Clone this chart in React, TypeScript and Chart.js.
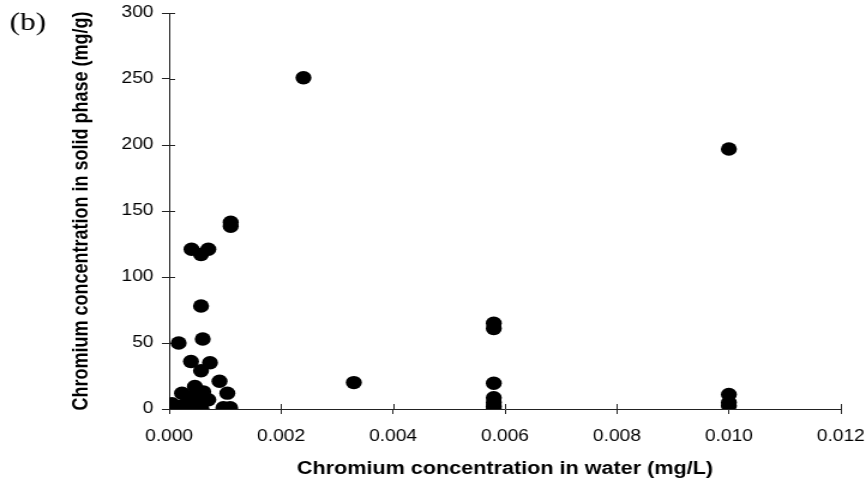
import { useEffect, useRef } from "react";
import { Chart, registerables } from "chart.js";

Chart.register(...registerables);

// Chromium in water (mg/L) and in the solid phase (mg/g), one entry per sample
const waterCr = [
  0.0024, 0.01, 0.0011, 0.0011, 0.0004, 0.0007, 0.00057, 0.00057, 0.00017, 0.0006,
  0.00039, 0.00073, 0.00057, 0.0009, 0.00104, 0.00046, 0.00023, 0.00061, 0.0007, 0.00005,
  0.00032, 0.0004, 0.00055, 0.00017, 0.00003, 0.00058, 0.00097, 0.00109, 0.00043, 0.0006,
  0.0033, 0.0058, 0.0058, 0.0058, 0.0058, 0.0058, 0.0058, 0.0058, 0.01, 0.01, 0.01,
];
const solidCr = [
  251, 197, 141.5, 138.5, 121, 121, 117, 78, 50, 53,
  36, 35, 29, 21, 12, 17, 12, 13, 7, 4,
  5, 3, 2, 2, 2, 0, 1, 1, 10, 8,
  20, 65, 61, 19.5, 8.5, 5, 2, 0, 11, 5, 2.5,
];

const xTickValues = [0, 0.002, 0.004, 0.006, 0.008, 0.01, 0.012];
const yTickValues = [0, 50, 100, 150, 200, 250, 300];

const panelLabel = "(b)";
const xTitle = "Chromium concentration in water (mg/L)";
const yTitle = "Chromium concentration in solid phase (mg/g)";

// the figure is laid out on a narrower canvas and widened by CSS
const PAGE_W = 866;
const PAGE_H = 486;
const WIDEN = 1.2;
const CANVAS_W = Math.round(PAGE_W / WIDEN);

const AXIS = "#222";
const SANS = '"Liberation Sans", Arial, sans-serif';

// tick marks cross the axis lines: Chart.js draws the outer half, this draws the inner half
const axisDecor = {
  id: "axisDecor",
  beforeDatasetsDraw(chart: any) {
    const { ctx } = chart;
    const xs = chart.scales.x;
    const ys = chart.scales.y;
    ctx.save();
    ctx.strokeStyle = AXIS;
    ctx.lineWidth = 1;
    ctx.beginPath();
    xs.ticks.forEach((_: any, i: number) => {
      const px = Math.round(xs.getPixelForTick(i)) + 0.5;
      ctx.moveTo(px, xs.top);
      ctx.lineTo(px, xs.top - 5);
    });
    ys.ticks.forEach((_: any, i: number) => {
      const py = Math.round(ys.getPixelForTick(i)) + 0.5;
      ctx.moveTo(ys.right, py);
      ctx.lineTo(ys.right + 5, py);
    });
    ctx.stroke();
    ctx.restore();
  },
  afterDraw(chart: any) {
    const { ctx } = chart;
    ctx.save();
    ctx.fillStyle = "#000";
    ctx.font = '26px "Liberation Serif", "Times New Roman", serif';
    ctx.textBaseline = "alphabetic";
    ctx.textAlign = "left";
    ctx.fillText(panelLabel, 8, 30);
    ctx.restore();
  },
};

export default function App() {
  const canvasRef = useRef<HTMLCanvasElement>(null);

  useEffect(() => {
    const canvas = canvasRef.current;
    if (!canvas) return;
    const points = waterCr.map((x, i) => ({ x, y: solidCr[i] }));

    const chart = new Chart(canvas, {
      type: "scatter",
      data: {
        datasets: [
          {
            data: points,
            pointStyle: "circle",
            pointRadius: 6.7,
            pointBorderWidth: 0,
            pointBackgroundColor: "#000",
            pointBorderColor: "#000",
          },
        ],
      },
      plugins: [axisDecor],
      options: {
        responsive: false,
        devicePixelRatio: 1,
        animation: false,
        events: [],
        layout: { padding: { top: 13, right: CANVAS_W - Math.round(841 / WIDEN), left: 0, bottom: 0 } },
        plugins: {
          legend: { display: false },
          tooltip: { enabled: false },
        },
        scales: {
          x: {
            type: "linear",
            min: 0,
            max: 0.012,
            afterBuildTicks: (s: any) => {
              s.ticks = xTickValues.map((v) => ({ value: v }));
            },
            afterFit: (s: any) => {
              s.height = PAGE_H - 409;
              s.paddingLeft = 0;
              s.paddingRight = 0;
            },
            grid: { drawOnChartArea: false, drawTicks: true, tickLength: 5, color: AXIS, lineWidth: 1 },
            border: { display: true, color: AXIS, width: 1 },
            ticks: {
              color: "#000",
              padding: 13,
              maxRotation: 0,
              font: { family: SANS, size: 16 },
              callback: (v: any) => Number(v).toFixed(3),
            },
            title: {
              display: true,
              text: xTitle,
              color: "#000",
              font: { family: SANS, size: 18, weight: "bold" },
              padding: { top: 0, bottom: 6 },
            },
          },
          y: {
            type: "linear",
            min: 0,
            max: 300,
            afterBuildTicks: (s: any) => {
              s.ticks = yTickValues.map((v) => ({ value: v }));
            },
            afterFit: (s: any) => {
              s.width = Math.round(169 / WIDEN);
              s.paddingTop = 0;
              s.paddingBottom = 0;
            },
            grid: { drawOnChartArea: false, drawTicks: true, tickLength: 6, color: AXIS, lineWidth: 1 },
            border: { display: true, color: AXIS, width: 1 },
            ticks: {
              color: "#000",
              padding: 7,
              font: { family: SANS, size: 16 },
              callback: (v: any) => String(v),
            },
            title: {
              display: true,
              text: yTitle,
              color: "#000",
              font: { family: SANS, size: 18, weight: "bold" },
              padding: { top: 57, bottom: 0 },
            },
          },
        },
      },
    });

    return () => chart.destroy();
  }, []);

  return (
    <div style={{ position: "absolute", left: 0, top: 0, width: PAGE_W, height: PAGE_H, background: "#fff" }}>
      <canvas
        ref={canvasRef}
        width={CANVAS_W}
        height={PAGE_H}
        style={{ width: `${PAGE_W}px`, height: `${PAGE_H}px`, display: "block" }}
      />
    </div>
  );
}
